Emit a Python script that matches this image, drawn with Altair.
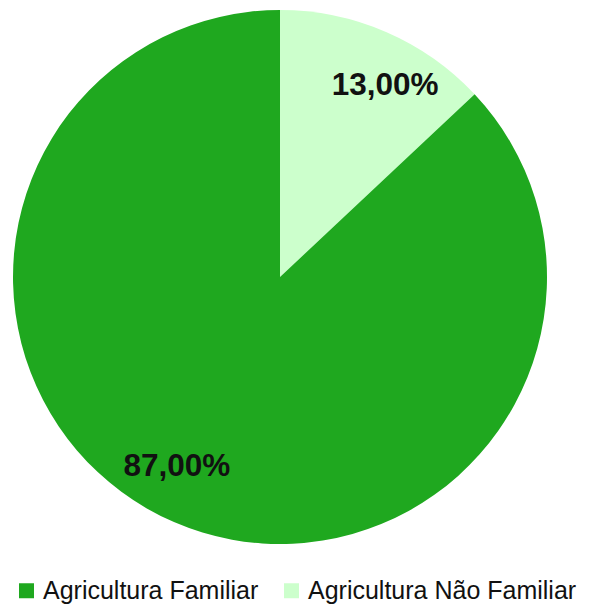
import altair as alt
import pandas as pd

categories = ["Agricultura Não Familiar", "Agricultura Familiar"]
values = [13.0, 87.0]
labels = ["13,00%", "87,00%"]
order = [0, 1]
legend_order = ["Agricultura Familiar", "Agricultura Não Familiar"]
legend_colors = ["#1fa81f", "#ccffcc"]

df = pd.DataFrame({"cat": categories, "val": values, "lab": labels, "ord": order})

base = alt.Chart(df).transform_window(
    cum="sum(val)", sort=[alt.SortField("ord")]
).transform_calculate(mid="datum.cum - datum.val / 2")

pie = base.mark_arc(radius=267, stroke=None).encode(
    theta=alt.Theta("val:Q", stack=True, scale=alt.Scale(domain=[0, 100])),
    order=alt.Order("ord:Q"),
    color=alt.Color(
        "cat:N",
        scale=alt.Scale(domain=legend_order, range=legend_colors),
        legend=alt.Legend(
            title=None,
            orient="none",
            legendX=6,
            legendY=570,
            direction="horizontal",
            symbolType="square",
            symbolSize=225,
            symbolStrokeWidth=0,
            labelFontSize=25,
            labelFont="Liberation Sans",
            labelColor="#111111",
            labelOffset=4,
            columnPadding=20,
            padding=0,
            labelLimit=400,
        ),
    ),
)

lab13 = base.transform_filter(alt.datum.ord == 0).mark_text(
    radius=217, dx=19, dy=8, fontSize=31.5, fontWeight="bold", font="Liberation Sans", color="#111111"
).encode(theta=alt.Theta("mid:Q", scale=alt.Scale(domain=[0, 100])), text="lab:N")

lab87 = base.transform_filter(alt.datum.ord == 1).mark_text(
    radius=217, dx=-17, dy=-9, fontSize=31.5, fontWeight="bold", font="Liberation Sans", color="#111111"
).encode(theta=alt.Theta("mid:Q", scale=alt.Scale(domain=[0, 100])), text="lab:N")

chart = (
    alt.layer(pie, lab13, lab87)
    .properties(width=544, height=538, padding=0)
    .configure_view(stroke=None)
)

chart.save("out.html", embed_options={"renderer": "svg", "actions": False})
